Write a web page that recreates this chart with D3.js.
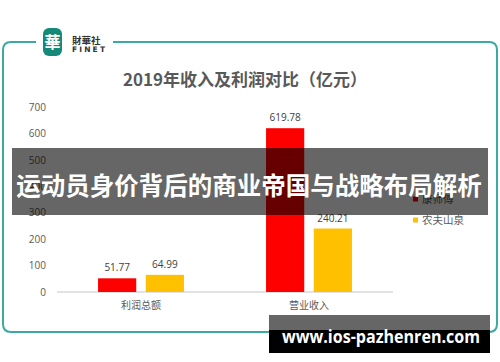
<!DOCTYPE html>
<html>
<head>
<meta charset="utf-8">
<script src="https://cdn.jsdelivr.net/npm/d3@7"></script>
<style>
  body { margin: 0; background: #fff; }
  svg { display: block; font-family: "Noto Sans CJK SC", "Open Sans", sans-serif; }
</style>
</head>
<body>
<svg id="chart" width="500" height="362"></svg>
<script>
const categories = ['利润总额', '营业收入'];
const series = ['康师傅', '农夫山泉'];
const kangValues = [51.77, 619.78];
const nongfuValues = [64.99, 240.21];
const yTicks = [0, 100, 200, 300, 400, 500, 600, 700];
const colors = ['#ff0000', '#ffc000'];

const svg = d3.select('#chart');
const plot = { left: 57, right: 393, top: 107, bottom: 292 };

// card frame with gap for the logo
const teal = '#3aaaa2';
const r = 8;
svg.append('path')
  .attr('d', `M36,42 H${3 + r} Q3,42 3,${42 + r} V${332 - r} Q3,332 ${3 + r},332 H${497 - r} Q497,332 497,${332 - r} V${42 + r} Q497,42 ${497 - r},42 H113`)
  .attr('fill', 'none')
  .attr('stroke', teal)
  .attr('stroke-width', 2);

// logo
svg.append('rect')
  .attr('x', 43).attr('y', 28).attr('width', 19).attr('height', 28)
  .attr('rx', 6).attr('fill', '#168a78');
svg.append('text')
  .attr('x', 52.5).attr('y', 47.5)
  .attr('text-anchor', 'middle')
  .attr('fill', '#fff')
  .attr('font-size', 16)
  .attr('font-weight', 'bold')
  .text('華');
svg.append('text')
  .attr('x', 72).attr('y', 44)
  .attr('fill', '#333')
  .attr('font-size', 9.5)
  .attr('font-weight', 'bold')
  .text('財華社');
svg.append('text')
  .attr('x', 72).attr('y', 51.5)
  .attr('fill', '#333')
  .attr('font-size', 7.5)
  .attr('font-weight', 'bold')
  .attr('font-family', 'DejaVu Sans')
  .attr('textLength', 33)
  .text('FINET');

// title
svg.append('text')
  .attr('x', 245).attr('y', 86)
  .attr('text-anchor', 'middle')
  .attr('fill', '#595959')
  .attr('font-size', 17)
  .attr('font-weight', 'bold')
  .text('2019年收入及利润对比（亿元）');

const y = d3.scaleLinear().domain([0, 700]).range([plot.bottom, plot.top]);
const x0 = d3.scaleBand().domain(categories).range([plot.left, plot.right]);
const x1 = d3.scaleBand().domain(series).range([0, x0.bandwidth()])
  .paddingInner(0.2).paddingOuter(0.86);

const yAxis = svg.append('g')
  .attr('transform', `translate(${plot.left}, 0)`)
  .call(d3.axisLeft(y).tickValues(yTicks).tickSize(0).tickPadding(11));
yAxis.select('.domain').remove();
yAxis.selectAll('text')
  .attr('fill', '#595959')
  .attr('font-size', 10)
  .attr('font-family', '"Open Sans", sans-serif');

svg.append('line')
  .attr('x1', plot.left).attr('x2', plot.right)
  .attr('y1', y(0)).attr('y2', y(0))
  .attr('stroke', '#d9d9d9').attr('stroke-width', 1.5);

const xAxis = svg.append('g')
  .attr('transform', `translate(0, ${plot.bottom})`)
  .call(d3.axisBottom(x0).tickSize(0).tickPadding(10));
xAxis.select('.domain').remove();
xAxis.selectAll('text')
  .attr('fill', '#595959')
  .attr('font-size', 10)
  .attr('font-family', '"Noto Sans CJK SC", sans-serif');

const rows = categories.map((c, i) => ({
  cat: c,
  vals: [
    { s: series[0], v: kangValues[i], c: colors[0] },
    { s: series[1], v: nongfuValues[i], c: colors[1] }
  ]
}));

const groups = svg.selectAll('.grp').data(rows).join('g')
  .attr('transform', d => `translate(${x0(d.cat)}, 0)`);
groups.selectAll('rect').data(d => d.vals).join('rect')
  .attr('x', d => x1(d.s))
  .attr('width', x1.bandwidth())
  .attr('y', d => y(d.v))
  .attr('height', d => y(0) - y(d.v))
  .attr('fill', d => d.c);
groups.selectAll('text').data(d => d.vals).join('text')
  .attr('x', d => x1(d.s) + x1.bandwidth() / 2)
  .attr('y', d => y(d.v) - 7)
  .attr('text-anchor', 'middle')
  .attr('fill', '#404040')
  .attr('font-size', 10)
  .attr('font-family', '"Open Sans", sans-serif')
  .text(d => d.v.toFixed(2));

// legend
const legend = svg.append('g').attr('transform', 'translate(413, 199)');
series.forEach((s, i) => {
  legend.append('rect')
    .attr('x', 0).attr('y', i * 21 - 2.5)
    .attr('width', 5).attr('height', 5)
    .attr('fill', colors[i]);
  legend.append('text')
    .attr('x', 9).attr('y', i * 21)
    .attr('dy', '0.35em')
    .attr('fill', '#595959')
    .attr('font-size', 10.5)
    .text(s);
});

// overlay banner
svg.append('rect')
  .attr('x', 12).attr('y', 148).attr('width', 476).attr('height', 67)
  .attr('fill', 'rgba(0,0,0,0.6)');
svg.append('text')
  .attr('x', 249).attr('y', 195)
  .attr('text-anchor', 'middle')
  .attr('fill', '#fff')
  .attr('font-size', 24.5)
  .attr('font-weight', 'bold')
  .text('运动员身价背后的商业帝国与战略布局解析');

// url box
svg.append('rect')
  .attr('x', 269).attr('y', 315).attr('width', 221).attr('height', 15)
  .attr('fill', '#666');
svg.append('rect')
  .attr('x', 269).attr('y', 330).attr('width', 221).attr('height', 23)
  .attr('fill', '#000');
svg.append('text')
  .attr('x', 282).attr('y', 343)
  .attr('fill', '#fff')
  .attr('font-size', 18)
  .attr('font-weight', 'bold')
  .attr('font-family', '"Open Sans", sans-serif')
  .attr('textLength', 198)
  .attr('lengthAdjust', 'spacingAndGlyphs')
  .text('www.ios-pazhenren.com');
</script>
</body>
</html>
